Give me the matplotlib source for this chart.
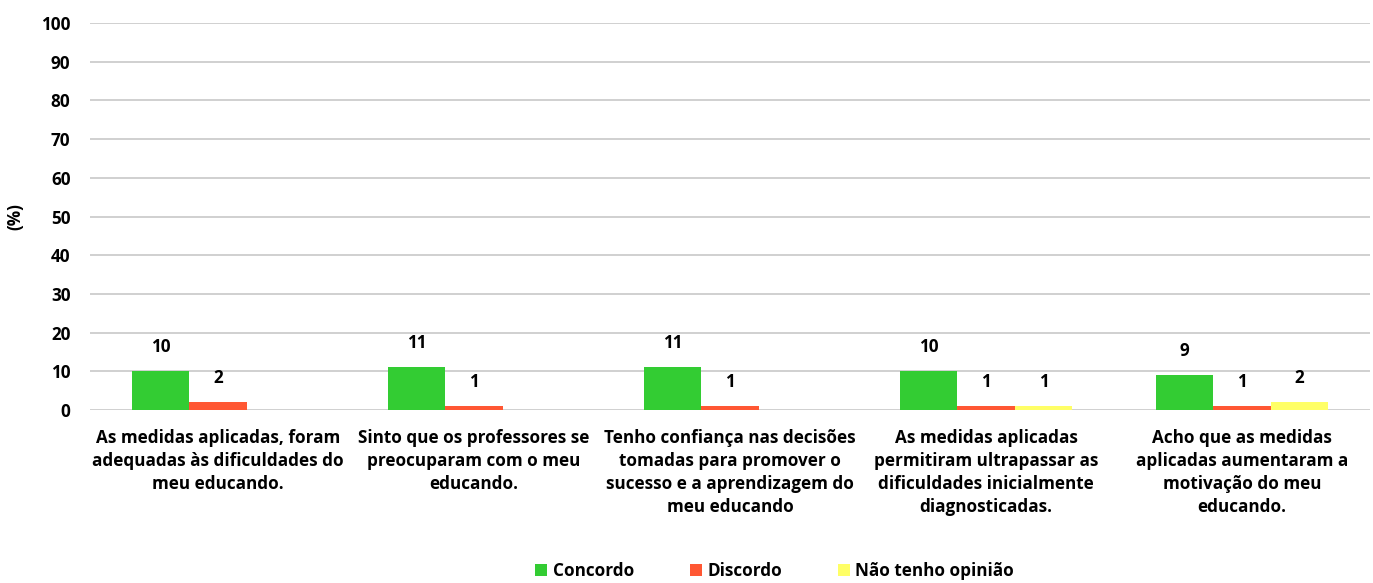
import matplotlib.pyplot as plt
import numpy as np

plt.rcParams['font.family'] = ['Open Sans', 'DejaVu Sans']
plt.rcParams['font.weight'] = 'bold'

categories = ['As medidas aplicadas, foram\nadequadas às dificuldades do\nmeu educando.',
              'Sinto que os professores se\npreocuparam com o meu\neducando.',
              'Tenho confiança nas decisões\ntomadas para promover o\nsucesso e a aprendizagem do\nmeu educando',
              'As medidas aplicadas\npermitiram ultrapassar as\ndificuldades inicialmente\ndiagnosticadas.',
              'Acho que as medidas\naplicadas aumentaram a\nmotivação do meu\neducando.']
concordo = [10, 11, 11, 10, 9]
discordo = [2, 1, 1, 1, 1]
sem_opiniao = [0, 0, 0, 1, 2]

series = [('Concordo', concordo, '#33CC33'),
          ('Discordo', discordo, '#FF5733'),
          ('Não tenho opinião', sem_opiniao, '#FFFF66')]

fs = 12.3
fig = plt.figure(figsize=(13.73, 5.83), dpi=100)
ax = fig.add_axes([90 / 1373, 1 - 410 / 583, 1280 / 1373, 387 / 583])

x = np.arange(len(categories))
w = 0.225
for i, (name, vals, col) in enumerate(series):
    pos = x + (i - 1) * w
    ax.bar(pos, vals, width=w, color=col, label=name, zorder=2)
    for p, v in zip(pos, vals):
        if v > 0:
            ax.text(p, v + 4, str(v), ha='center', va='bottom', fontsize=fs, fontweight='bold')

ax.set_xlim(-0.5, len(categories) - 0.5)
ax.set_ylim(0, 100)
ax.set_yticks(range(0, 101, 10))
ax.yaxis.grid(True, color='#C8C8C8', lw=1.2)
ax.set_axisbelow(True)
for s in ax.spines.values():
    s.set_visible(False)
ax.tick_params(axis='both', length=0, labelsize=fs)
ax.tick_params(axis='y', pad=14)
ax.set_xticks(x)
ax.set_xticklabels(categories, fontsize=fs, fontweight='bold', linespacing=1.35)
ax.tick_params(axis='x', pad=14)
ax.set_ylabel('(%)', fontsize=fs, fontweight='bold', labelpad=12)

ax.legend(loc='center', bbox_to_anchor=(0.535, -0.415), ncol=3, frameon=False,
          fontsize=fs, handlelength=0.7, handleheight=0.7, columnspacing=3.3,
          handletextpad=0.3)

fig.savefig('out.png', dpi=100)
